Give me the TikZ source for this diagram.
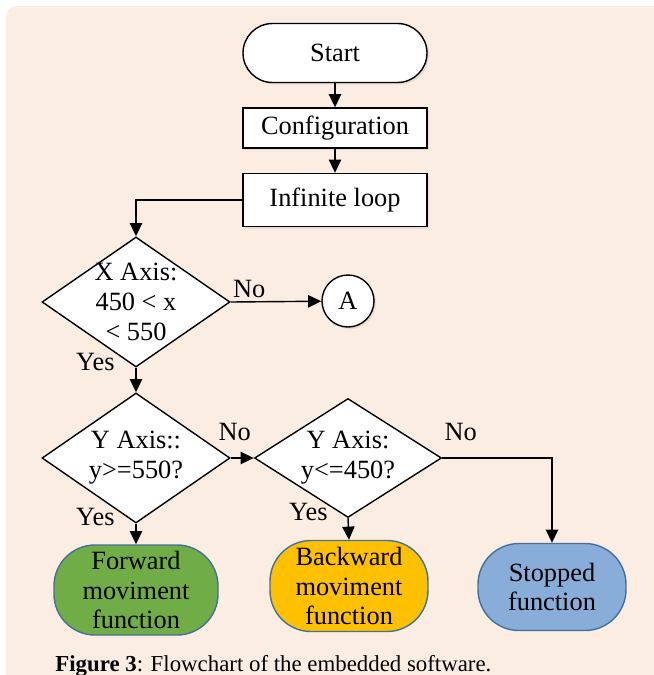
\documentclass[tikz,border=0pt]{standalone}
\usepackage{fontspec}
\setmainfont{Liberation Serif}
\usepackage{xcolor}
\usetikzlibrary{shapes.geometric,arrows.meta,positioning,shadows}

\definecolor{paper}{HTML}{FCEDE3}
\definecolor{fwdgreen}{HTML}{70AD47}
\definecolor{bwdyellow}{HTML}{FFC000}
\definecolor{stopblue}{HTML}{87ADD8}
\definecolor{edgeblue}{HTML}{41719C}

\begin{document}
\begin{tikzpicture}[
    box/.style={draw, line width=0.8pt, fill=white, align=center, minimum width=3.68cm, font=\fontsize{15}{17}\selectfont,
      drop shadow={opacity=0.15, shadow xshift=1.2pt, shadow yshift=-1.2pt}},
    decision/.style={draw, diamond, line width=0.8pt, fill=white, inner sep=0pt},
    dtext/.style={align=center, font=\fontsize{15}{17}\selectfont},
    action/.style={draw=edgeblue, line width=0.8pt, rounded corners=0.82cm, align=center, font=\fontsize{15}{17}\selectfont},
    lbl/.style={font=\fontsize{15}{17}\selectfont, inner sep=1pt},
    arrow/.style={-{Triangle[length=7.5pt,width=7pt]}, line width=0.8pt}
]
\clip (0,0) rectangle (13.08,-13.5);
\fill[paper, rounded corners=0.22cm] (0.12,-0.12) rectangle (13.6,-14);

\node[box, rounded corners=0.59cm, minimum height=1.18cm] at (6.70,-1.06) (start) {Start};
\node[box, minimum height=0.80cm] at (6.70,-2.56) (config) {Configuration};
\node[box, minimum height=1.06cm] at (6.70,-4.00) (loop) {Infinite loop};

\node[decision, minimum width=3.76cm, minimum height=2.60cm,
  label={[dtext]center:X Axis:\\450 < x\\< 550}] at (2.72,-6.04) (xaxis) {};
\node[draw, circle, line width=0.8pt, fill=white, minimum size=1.04cm, font=\fontsize{15}{17}\selectfont,
  drop shadow={opacity=0.15, shadow xshift=1.2pt, shadow yshift=-1.2pt}] at (6.96,-6.02) (conA) {A};

\node[decision, minimum width=3.76cm, minimum height=2.60cm,
  label={[dtext]center:Y Axis::\\y>=550?}] at (2.72,-9.16) (yfwd) {};
\node[decision, minimum width=3.74cm, minimum height=2.38cm,
  label={[dtext]center:Y Axis:\\y<=450?}] at (6.96,-9.16) (ybwd) {};

\node[action, fill=fwdgreen, minimum width=3.28cm, minimum height=1.80cm] at (2.72,-11.80) (fwd) {Forward\\moviment\\function};
\node[action, fill=bwdyellow, minimum width=3.16cm, minimum height=1.82cm] at (6.98,-11.72) (bwd) {Backward\\moviment\\function};
\node[action, fill=stopblue, minimum width=2.96cm, minimum height=1.74cm] at (11.04,-11.74) (stop) {Stopped\\function};

\draw[arrow] (start) -- (config);
\draw[arrow] (config) -- (loop);
\draw[arrow] (loop.west) -| (xaxis.north);
\draw[arrow] (xaxis.east) -- node[lbl, pos=0, anchor=south west, yshift=1pt] {No} (conA);
\draw[arrow] (xaxis.south) -- node[lbl, pos=0, anchor=east, xshift=-0.38cm, yshift=0.12cm] {Yes} (yfwd.north);
\draw[arrow] (yfwd.east) -- node[lbl, pos=0, anchor=south, xshift=0.08cm, yshift=0.3cm] {No} (ybwd.west);
\draw[arrow] (yfwd.south) -- node[lbl, pos=0, anchor=east, xshift=-0.38cm, yshift=0.14cm] {Yes} (fwd.north);
\draw[arrow] (ybwd.south) -- node[lbl, pos=0, anchor=east, xshift=-0.36cm, yshift=0.12cm] {Yes} (bwd.north);
\draw[arrow] (ybwd.east) -| node[lbl, pos=0, anchor=south west, yshift=0.3cm] {No} (stop.north);

\node[anchor=base west, font=\fontsize{13}{15}\selectfont, inner sep=0pt] at (1.10,-13.42) (caption)
  {\textbf{Figure 3}: Flowchart of the embedded software.};
\end{tikzpicture}
\end{document}
